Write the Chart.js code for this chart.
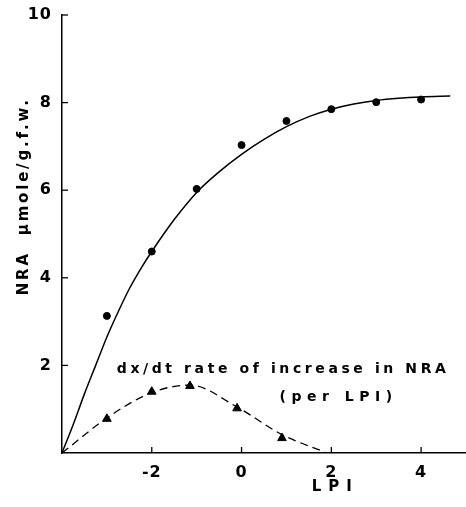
<!DOCTYPE html>
<html>
<head>
<meta charset="utf-8">
<script src="https://cdn.jsdelivr.net/npm/chart.js@4/dist/chart.umd.min.js"></script>
<style>
  html, body { margin: 0; padding: 0; background: #fff; }
  #wrap { width: 466px; height: 507px; position: relative; }
</style>
</head>
<body>
<div id="wrap"><canvas id="c"></canvas></div>
<script>
// NRA (µmole/g.f.w.) vs LPI, with fitted curve and rate of increase (dashed)
const lpi = [-3, -2, -1, 0, 1, 2, 3, 4];
const nra = [3.13, 4.6, 6.03, 7.03, 7.58, 7.85, 8.01, 8.07];

// fitted curve
const curvaX = [-4, -3.75, -3.5, -3.25, -3, -2.75, -2.5, -2.25, -2, -1.5, -1, -0.5, 0, 0.5, 1, 1.5, 2, 2.5, 3, 3.5, 4, 4.65];
const curvaY = [0, 0.65, 1.35, 2.0, 2.65, 3.22, 3.75, 4.2, 4.6, 5.33, 5.95, 6.42, 6.82, 7.16, 7.45, 7.68, 7.85, 7.97, 8.05, 8.1, 8.13, 8.15];

// dx/dt triangles and dashed curve
const taxaX = [-3, -2, -1.15, -0.1, 0.9];
const taxaY = [0.78, 1.4, 1.53, 1.02, 0.34];
const taxaCurvaX = [-4, -3, -2, -1.15, -0.1, 0.9, 1.9];
const taxaCurvaY = [0, 0.8, 1.38, 1.55, 1.05, 0.42, 0];

const xTicks = [-2, 0, 2, 4];
const yTicks = [2, 4, 6, 8, 10];

const FONTE = "'DejaVu Sans', sans-serif";
const pontos = (xs, ys) => xs.map((x, i) => ({ x, y: ys[i] }));

function linha(ctx, x1, y1, x2, y2) {
  ctx.beginPath(); ctx.moveTo(x1, y1); ctx.lineTo(x2, y2); ctx.stroke();
}

const decor = {
  id: 'decor',
  beforeDraw(chart) { chart.ctx.letterSpacing = '1px'; },
  afterDraw(chart) {
    const { ctx, chartArea: a, scales: { x, y } } = chart;
    ctx.save();
    ctx.strokeStyle = '#000';
    ctx.lineWidth = 1.3;
    xTicks.forEach((v) => { const px = x.getPixelForValue(v); linha(ctx, px, a.bottom, px, a.bottom - 6); });
    yTicks.forEach((v) => { const py = y.getPixelForValue(v); linha(ctx, a.left, py, a.left + 6, py); });

    ctx.fillStyle = '#000';
    ctx.textBaseline = 'middle';

    // annotation
    ctx.font = 'bold 14px ' + FONTE;
    ctx.letterSpacing = '3.6px';
    ctx.textAlign = 'left';
    ctx.fillText('dx/dt rate of increase in NRA', x.getPixelForValue(-2.78), y.getPixelForValue(1.9));
    ctx.letterSpacing = '5.5px';
    ctx.textAlign = 'center';
    ctx.fillText('(per LPI)', x.getPixelForValue(2.05) + 5, y.getPixelForValue(1.28));

    // x title
    ctx.font = 'bold 15px ' + FONTE;
    ctx.letterSpacing = '7px';
    ctx.fillText('LPI', x.getPixelForValue(2) + 4, a.bottom + 34);

    // y title
    ctx.translate(24, y.getPixelForValue(3.6));
    ctx.rotate(-Math.PI / 2);
    ctx.textAlign = 'left';
    ctx.letterSpacing = '2.8px';
    ctx.font = 'bold 15px ' + FONTE;
    ctx.fillText('NRA  µmole/g.f.w.', 0, 0);
    ctx.restore();
  }
};

new Chart(document.getElementById('c'), {
  type: 'scatter',
  data: {
    datasets: [
      { data: pontos(lpi, nra), pointStyle: 'circle', pointRadius: 3.5, backgroundColor: '#000', borderColor: '#000', showLine: false },
      { data: pontos(curvaX, curvaY), showLine: true, pointRadius: 0, borderColor: '#000', borderWidth: 1.5, cubicInterpolationMode: 'monotone' },
      { data: pontos(taxaX, taxaY), pointStyle: 'triangle', pointRadius: 5, backgroundColor: '#000', borderColor: '#000', showLine: false },
      { data: pontos(taxaCurvaX, taxaCurvaY), showLine: true, pointRadius: 0, borderColor: '#000', borderWidth: 1.3, borderDash: [8, 5], cubicInterpolationMode: 'monotone' },
    ],
  },
  options: {
    responsive: true, maintainAspectRatio: false, animation: false,
    layout: { autoPadding: false, padding: { top: 15, right: 0, left: 0, bottom: 0 } },
    plugins: { legend: { display: false }, tooltip: { enabled: false } },
    scales: {
      x: {
        type: 'linear', min: -4, max: 5,
        afterFit: (s) => { s.height = 54; s.paddingLeft = 0; s.paddingRight = 0; },
        grid: { display: false, drawTicks: false },
        border: { display: true, color: '#000', width: 1.5 },
        ticks: {
          stepSize: 1, autoSkip: false, maxRotation: 0, padding: 10, color: '#000',
          font: { family: FONTE, size: 16, weight: 'bold' },
          callback: (v) => (xTicks.includes(v) ? String(v) : ''),
        },
      },
      y: {
        type: 'linear', min: 0, max: 10,
        afterFit: (s) => { s.width = 62; s.paddingTop = 0; s.paddingBottom = 0; },
        grid: { display: false, drawTicks: false },
        border: { display: true, color: '#000', width: 1.5 },
        ticks: {
          stepSize: 2, padding: 10, color: '#000',
          font: { family: FONTE, size: 16, weight: 'bold' },
          callback: (v) => (yTicks.includes(v) ? String(v) : ''),
        },
      },
    },
  },
  plugins: [decor],
});
</script>
</body>
</html>
